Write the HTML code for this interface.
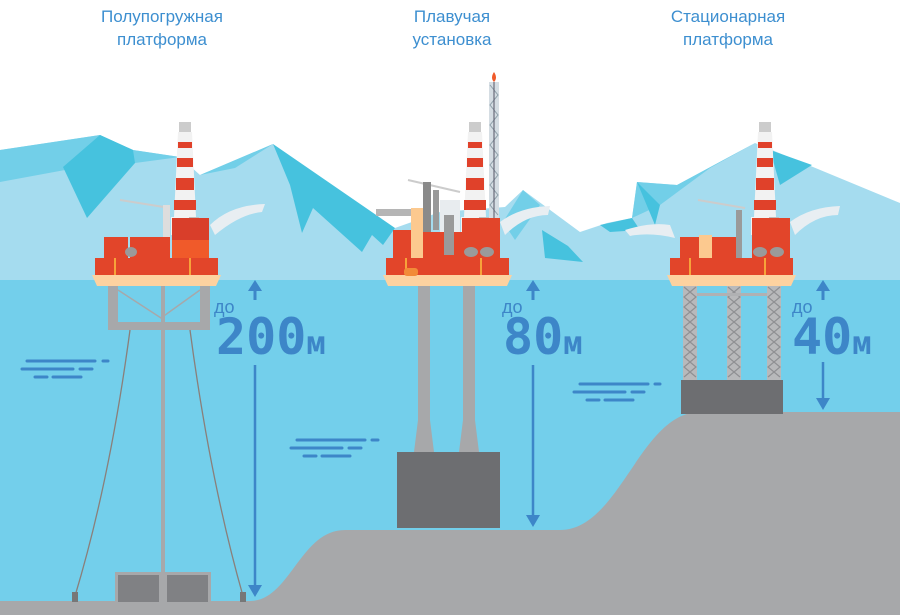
<!DOCTYPE html>
<html><head><meta charset="utf-8"><style>
html,body{margin:0;padding:0;background:#fff;}
svg{display:block;}
.t{font-family:"Liberation Sans",sans-serif;font-size:17px;fill:#3d8fd0;text-anchor:middle;}
.d{font-family:"Liberation Sans",sans-serif;font-size:18px;fill:#3d86c8;}
.n{font-family:"DejaVu Sans Mono","Liberation Mono",monospace;font-weight:bold;font-size:50px;fill:#3d86c8;}
.m{font-family:"DejaVu Sans Mono","Liberation Mono",monospace;font-weight:bold;font-size:32px;fill:#3d86c8;}
</style></head><body>
<svg width="900" height="615" viewBox="0 0 900 615" xmlns="http://www.w3.org/2000/svg">
<defs>
<g id="tower">
 <rect x="-4" y="0" width="12" height="10" fill="#ccc"/>
 <path d="M-5 10 H9 L13 95 H-9 Z" fill="#f2f2f2"/>
 <rect x="-5" y="20" width="14" height="6" fill="#e0412a"/>
 <rect x="-6" y="36" width="16" height="9" fill="#e0412a"/>
 <rect x="-7" y="56" width="18" height="12" fill="#e0412a"/>
 <rect x="-9" y="78" width="22" height="10" fill="#e0412a"/>
 <rect x="-12" y="95" width="28" height="18" fill="#f2f2f2"/>
 <rect x="6" y="95" width="10" height="18" fill="#bdbdbd"/>
</g>
<g id="deck">
 <rect x="0" y="0" width="123" height="17" fill="#e2452a"/>
 <line x1="20" y1="0" x2="20" y2="17" stroke="#f7a23a" stroke-width="2"/>
 <line x1="95" y1="0" x2="95" y2="17" stroke="#f7a23a" stroke-width="2"/>
 <path d="M-3 17 H126 L121 28 H2 Z" fill="#fdd2a0"/>
</g>
<g id="leg">
 <rect x="0" y="0" width="14" height="97" fill="#b8b9bb"/>
 <path d="M1 2 L13 12 L1 22 L13 32 L1 42 L13 52 L1 62 L13 72 L1 82 L13 92 M13 2 L1 12 L13 22 L1 32 L13 42 L1 52 L13 62 L1 72 L13 82 L1 92" stroke="#8f9093" stroke-width="1.2" fill="none"/>
</g>
</defs>
<rect width="900" height="615" fill="#fff"/>
<!-- ice -->
<polygon points="0,150 100,135 133,150 180,157 200,175 273,144 380,230 395,228 440,212 505,207 523,190 580,232 607,223 632,218 637,182 677,185 755,143 900,203 900,282 0,282" fill="#a5dcef"/>
<polygon points="0,150 100,135 133,150 180,157 135,163 65,170 0,182" fill="#72cfe8"/>
<polygon points="200,175 273,144 235,168" fill="#72cfe8"/>
<polygon points="63,167 100,135 133,150 135,163 87,218" fill="#46c2de"/>
<polygon points="273,144 395,228 383,245 372,235 362,252 313,208 302,233 290,185" fill="#46c2de"/>
<polygon points="503,222 523,190 540,205 515,240" fill="#72cfe8"/>
<polygon points="542,230 568,246 583,262 545,258" fill="#46c2de"/>
<polygon points="632,218 637,182 677,185 755,143 710,168 660,205" fill="#72cfe8"/>
<polygon points="637,182 660,205 655,225" fill="#46c2de"/>
<polygon points="600,225 632,218 640,230 610,232" fill="#46c2de"/>
<polygon points="770,150 812,165 780,185" fill="#46c2de"/>
<!-- water -->
<rect x="0" y="280" width="900" height="335" fill="#73cfeb"/>
<!-- seabed -->
<path d="M0 601 H250 C290 601 300 530 345 530 H560 C620 530 640 412 700 412 H900 V615 H0 Z" fill="#a7a8aa"/>
<!-- waves -->
<g stroke="#3d86c8" stroke-width="3" stroke-linecap="round">
<line x1="27" y1="361" x2="95" y2="361"/><line x1="103" y1="361" x2="108" y2="361"/>
<line x1="22" y1="369" x2="73" y2="369"/><line x1="80" y1="369" x2="92" y2="369"/>
<line x1="35" y1="377" x2="47" y2="377"/><line x1="53" y1="377" x2="81" y2="377"/>
<line x1="297" y1="440" x2="365" y2="440"/><line x1="372" y1="440" x2="378" y2="440"/>
<line x1="291" y1="448" x2="342" y2="448"/><line x1="349" y1="448" x2="361" y2="448"/>
<line x1="304" y1="456" x2="316" y2="456"/><line x1="322" y1="456" x2="350" y2="456"/>
<line x1="580" y1="384" x2="648" y2="384"/><line x1="655" y1="384" x2="660" y2="384"/>
<line x1="574" y1="392" x2="625" y2="392"/><line x1="632" y1="392" x2="644" y2="392"/>
<line x1="587" y1="400" x2="599" y2="400"/><line x1="605" y1="400" x2="633" y2="400"/>
</g>
<!-- platform 1 -->
<g fill="#a7a8aa">
<rect x="108" y="285" width="10" height="45"/><rect x="200" y="285" width="10" height="45"/>
<rect x="108" y="322" width="102" height="8"/><rect x="161" y="285" width="4" height="320"/>
</g>
<path d="M118 290 L161 318 L200 290" stroke="#a7a8aa" fill="none" stroke-width="1.5"/>
<path d="M130 330 Q110 480 75 596 M190 330 Q210 480 243 596" stroke="#8a7f7a" fill="none" stroke-width="1.3"/>
<rect x="72" y="592" width="6" height="10" fill="#777"/><rect x="240" y="592" width="6" height="10" fill="#777"/>
<rect x="115" y="572" width="96" height="30" fill="#a7a8aa"/>
<rect x="118" y="575" width="41" height="27" fill="#808184"/><rect x="167" y="575" width="41" height="27" fill="#808184"/>
<path d="M210 225 Q230 205 265 204 L262 212 Q240 214 215 235 Z" fill="#e8eef2"/>
<path d="M120 200 L170 208" stroke="#ccc" stroke-width="2"/>
<rect x="163" y="205" width="7" height="33" fill="#ddd"/>
<use href="#tower" x="183" y="122"/>
<rect x="172" y="218" width="37" height="22" fill="#d93e2a"/><rect x="172" y="240" width="37" height="18" fill="#f05a2a"/>
<rect x="104" y="237" width="24" height="21" fill="#e2452a"/><rect x="130" y="237" width="40" height="21" fill="#e2452a"/>
<ellipse cx="131" cy="252" rx="6" ry="5" fill="#9a9a9a"/>
<use href="#deck" x="95" y="258"/>
<!-- platform 2 -->
<path d="M418 285 H430 V420 L434 452 H414 L418 420 Z M463 285 H475 V420 L479 452 H459 L463 420 Z" fill="#a7a8aa"/>
<rect x="397" y="452" width="103" height="76" fill="#6d6e71"/>
<rect x="489" y="82" width="10" height="140" fill="#d5dde3"/>
<path d="M490 85 L498 95 L490 105 L498 115 L490 125 L498 135 L490 145 L498 155 L490 165 L498 175 L490 185 L498 195 L490 205 L498 215" stroke="#8fa0aa" fill="none"/>
<line x1="494" y1="82" x2="494" y2="222" stroke="#556" stroke-width="1"/>
<path d="M494 72 q-4 6 0 10 q4 -4 0 -10" fill="#f05a2a"/>
<path d="M500 222 Q520 207 550 206 L548 215 Q525 215 505 235 Z" fill="#e8eef2"/>
<use href="#tower" x="473" y="122"/>
<rect x="462" y="218" width="38" height="40" fill="#e2452a"/>
<rect x="440" y="200" width="20" height="58" fill="#e8ecef"/>
<path d="M408 180 L460 192" stroke="#ccc" stroke-width="2"/>
<rect x="423" y="182" width="8" height="50" fill="#8a8a8a"/><rect x="433" y="190" width="6" height="40" fill="#999"/>
<rect x="410" y="232" width="52" height="26" fill="#e2452a"/>
<rect x="393" y="230" width="20" height="28" fill="#e2452a"/>
<rect x="376" y="209" width="35" height="7" fill="#b5b5b5"/>
<rect x="411" y="208" width="12" height="50" fill="#fcc98f"/>
<rect x="444" y="215" width="10" height="40" fill="#9a9a9a"/>
<ellipse cx="471" cy="252" rx="7" ry="5" fill="#9a9a9a"/><ellipse cx="487" cy="252" rx="7" ry="5" fill="#9a9a9a"/>
<use href="#deck" x="386" y="258"/>
<rect x="404" y="268" width="14" height="8" rx="3" fill="#f28b38"/>
<!-- platform 3 -->
<use href="#leg" x="683" y="285"/><use href="#leg" x="727" y="285"/><use href="#leg" x="767" y="285"/>
<rect x="697" y="293" width="70" height="3" fill="#b0b1b3"/>
<rect x="681" y="380" width="102" height="34" fill="#6d6e71"/>
<path d="M625 230 Q650 222 670 225 L675 238 Q650 232 630 236 Z" fill="#e8eef2"/>
<path d="M790 222 Q810 207 840 206 L838 215 Q815 215 795 235 Z" fill="#e8eef2"/>
<path d="M698 200 L745 208" stroke="#ccc" stroke-width="2"/>
<use href="#tower" x="763" y="122"/>
<rect x="752" y="218" width="38" height="40" fill="#e2452a"/>
<rect x="680" y="237" width="20" height="21" fill="#e2452a"/><rect x="699" y="235" width="13" height="23" fill="#fcc98f"/>
<rect x="712" y="237" width="30" height="21" fill="#e2452a"/><rect x="736" y="210" width="6" height="48" fill="#9a9a9a"/>
<ellipse cx="760" cy="252" rx="7" ry="5" fill="#9a9a9a"/><ellipse cx="777" cy="252" rx="7" ry="5" fill="#9a9a9a"/>
<use href="#deck" x="670" y="258"/>
<!-- arrows -->
<g fill="#3d86c8" stroke="#3d86c8">
<line x1="255" y1="290" x2="255" y2="300" stroke-width="3"/><path d="M248 291 L255 280 L262 291 Z" stroke="none"/>
<line x1="255" y1="365" x2="255" y2="588" stroke-width="2.5"/><path d="M248 585 L255 597 L262 585 Z" stroke="none"/>
<line x1="533" y1="290" x2="533" y2="300" stroke-width="3"/><path d="M526 291 L533 280 L540 291 Z" stroke="none"/>
<line x1="533" y1="365" x2="533" y2="518" stroke-width="2.5"/><path d="M526 515 L533 527 L540 515 Z" stroke="none"/>
<line x1="823" y1="290" x2="823" y2="300" stroke-width="3"/><path d="M816 291 L823 280 L830 291 Z" stroke="none"/>
<line x1="823" y1="362" x2="823" y2="400" stroke-width="2.5"/><path d="M816 398 L823 410 L830 398 Z" stroke="none"/>
</g>
<text class="d" x="214" y="313">до</text>
<text x="216" y="354"><tspan class="n">200</tspan><tspan class="m">м</tspan></text>
<text class="d" x="502" y="313">до</text>
<text x="503" y="354"><tspan class="n">80</tspan><tspan class="m">м</tspan></text>
<text class="d" x="792" y="313">до</text>
<text x="792" y="354"><tspan class="n">40</tspan><tspan class="m">м</tspan></text>
<!-- titles -->
<text class="t" x="162" y="22">Полупогружная</text><text class="t" x="162" y="45">платформа</text>
<text class="t" x="452" y="22">Плавучая</text><text class="t" x="452" y="45">установка</text>
<text class="t" x="728" y="22">Стационарная</text><text class="t" x="728" y="45">платформа</text>
</svg>
</body></html>
